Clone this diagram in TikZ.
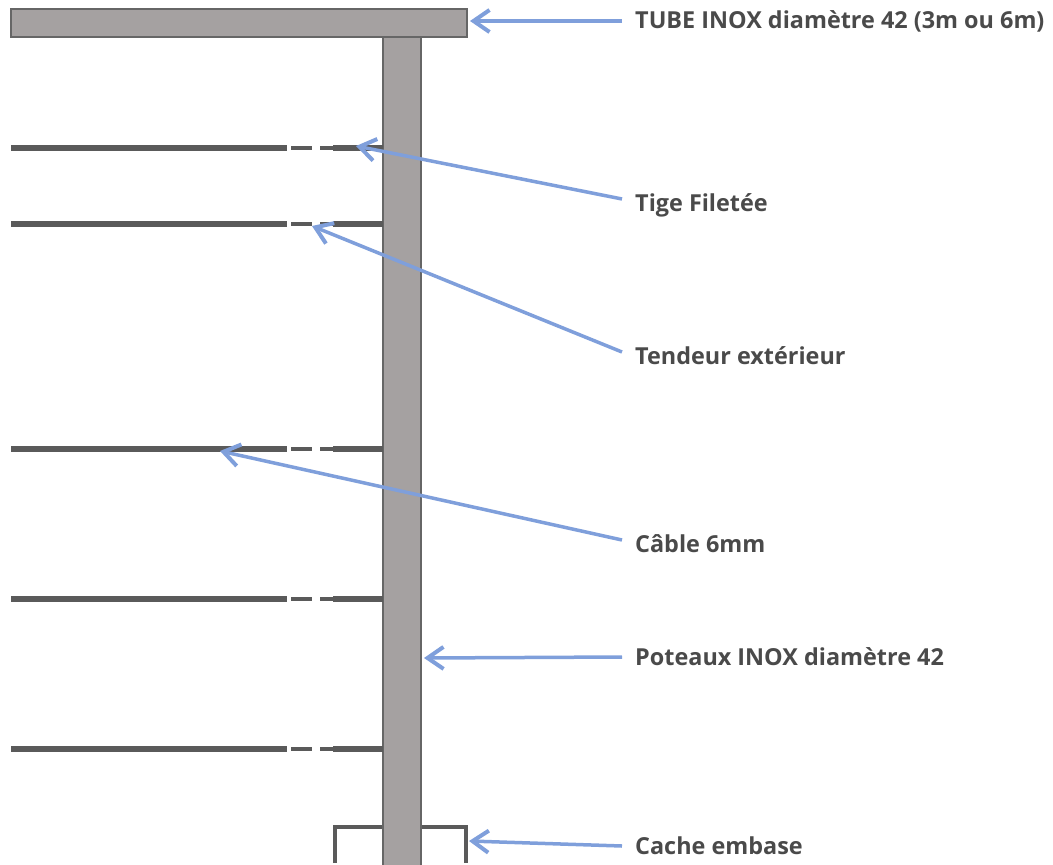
\documentclass[tikz,border=0pt]{standalone}
\usepackage{fontspec}
\setmainfont{Open Sans}
\usetikzlibrary{arrows.meta}
\definecolor{inoxfill}{HTML}{A5A1A1}
\definecolor{inoxline}{HTML}{666666}
\definecolor{cableline}{HTML}{5A5A5A}
\definecolor{arrowblue}{HTML}{7F9FDB}
\definecolor{labeltext}{HTML}{4A4A4A}
\tikzset{
    inox/.style={fill=inoxfill, draw=inoxline, line width=2.5pt},
    cable/.style={draw=cableline, line width=6.5pt},
    tendeur/.style={draw=cableline, line width=4.5pt},
    embase/.style={draw=cableline, line width=4.5pt},
    callout/.style={anchor=west, inner xsep=13pt, inner ysep=0pt, text=labeltext, font=\fontsize{23.4}{26}\selectfont\bfseries},
    fleche/.style={-{Straight Barb[length=16pt, width=22pt, line width=4pt]}, draw=arrowblue, line width=3.5pt}
}
\begin{document}
\begin{tikzpicture}[x=1pt, y=-1pt]
    \useasboundingbox (0, 0) rectangle (1053, 865);

    % rail and post
    \path[inox] (383, 37) rectangle (421, 866);
    \path[inox] (11, 9) rectangle (467, 37);

    % cables
    \foreach \ypos in {148, 224, 449, 599, 749} {
        \path[cable] (11, \ypos) -- (287, \ypos);
        \path[tendeur] (291, \ypos) -- (312, \ypos);
        \path[tendeur] (320, \ypos) -- (333, \ypos);
        \path[cable] (333, \ypos) -- (383, \ypos);
    }

    % cache embase
    \path[embase] (335, 863) -- (335, 827) -- (382, 827);
    \path[embase] (422, 827) -- (466, 827) -- (466, 863);

    % labels
    \node[callout] (tube) at (622, 21) {TUBE INOX diamètre 42 (3m ou 6m)};
    \node[callout] (tige) at (622, 205) {Tige Filetée};
    \node[callout] (tendeurlabel) at (622, 356) {Tendeur extérieur};
    \node[callout] (cablelabel) at (622, 544) {Câble 6mm};
    \node[callout] (poteaux) at (622, 657) {Poteaux INOX diamètre 42};
    \node[callout] (cache) at (622, 846) {Cache embase};

    \coordinate (tubetip) at (470, 21);
    \coordinate (tigetip) at (356, 146);
    \coordinate (tendeurtip) at (312, 226);
    \coordinate (cabletip) at (220, 451);
    \coordinate (poteauxtip) at (424, 658);
    \coordinate (cachetip) at (469, 841);

    \path[fleche] (tube.west) -- (tubetip);
    \path[fleche] (tige.west) ++(0, -6) -- (tigetip);
    \path[fleche] (tendeurlabel.west) ++(0, -4) -- (tendeurtip);
    \path[fleche] (cablelabel.west) ++(0, -4) -- (cabletip);
    \path[fleche] (poteaux.west) -- (poteauxtip);
    \path[fleche] (cache.west) -- (cachetip);
\end{tikzpicture}
\end{document}
